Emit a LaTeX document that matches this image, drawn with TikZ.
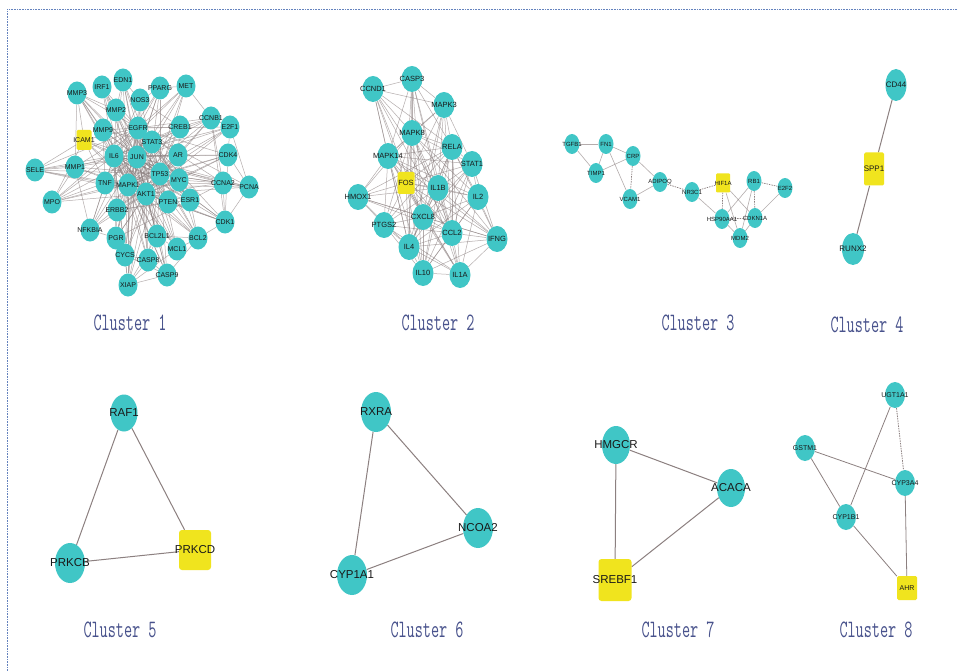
\documentclass[tikz,border=0pt]{standalone}
\usepackage{fontspec}
\usepackage{graphicx}
\newfontfamily\lsans{Liberation Sans}
\usetikzlibrary{shapes.geometric}
\definecolor{tq}{RGB}{64,198,198}
\definecolor{yl}{RGB}{240,228,30}
\definecolor{edg}{RGB}{140,128,128}
\definecolor{cl}{RGB}{72,82,140}
\definecolor{bd}{RGB}{100,130,190}
\pgfdeclarelayer{bg}\pgfsetlayers{bg,main}
\newcommand{\zw}[1]{\makebox[0pt]{#1}}
\tikzset{
 gnode/.style={ellipse, fill=tq, inner sep=0pt, text=black!90},
 ynode/.style={rectangle, rounded corners=1.5pt, fill=yl, inner sep=0pt, text=black!90},
 sA/.style={minimum width=19pt, minimum height=23pt, font=\lsans\fontsize{7}{7}\selectfont},
 sB/.style={minimum width=21pt, minimum height=26pt, font=\lsans\fontsize{7.5}{7.5}\selectfont},
 sC/.style={minimum width=15pt, minimum height=20pt, font=\lsans\fontsize{6}{6}\selectfont},
 sD/.style={minimum width=21pt, minimum height=32pt, font=\lsans\fontsize{8}{8}\selectfont},
 sE/.style={minimum width=30pt, minimum height=40pt, font=\lsans\fontsize{11.5}{11.5}\selectfont},
 sF/.style={minimum width=20pt, minimum height=26pt, font=\lsans\fontsize{7}{7}\selectfont},
 ed/.style={draw=edg, line width=0.5pt, draw opacity=0.65},
 edb/.style={draw=edg, line width=1pt},
 edd/.style={draw=edg, line width=0.7pt, dash pattern=on 1.5pt off 1pt},
 cluslabel/.style={text=cl, inner sep=0pt, font=\ttfamily\fontsize{25}{25}\selectfont},
}
\newcommand{\cltext}[1]{\scalebox{0.63}[1]{#1}}
\begin{document}
\begin{tikzpicture}[x=1pt,y=-1pt]
\useasboundingbox (0,0) rectangle (958,671);
\begin{pgfonlayer}{bg}
\fill[white] (0,0) rectangle (958,671);
\end{pgfonlayer}
\draw[bd, line width=0.9pt, dash pattern=on 0.8pt off 0.8pt] (7,671) -- (7,9) -- (958,9);

% ---------------- Cluster 1
\foreach \n/\x/\y in {EDN1/123/80, IRF1/102/87, MMP3/77/93, PPARG/160/88, MET/186/86, NOS3/140/100, MMP2/116/110, CCNB1/211/118, E2F1/230/127, MMP9/103/130, EGFR/138/128, CREB1/180/127, STAT3/152/142, IL6/114/156, JUN/137/157, AR/178/155, CDK4/228/155, SELE/35/170, MMP1/75/167, TP53/160/174, MYC/179/180, TNF/105/183, MAPK1/128/185, CCNA2/223/183, PCNA/249/187, AKT1/146/194, PTEN/168/202, ESR1/190/200, MPO/52/202, ERBB2/117/210, CDK1/225/222, NFKBIA/90/230, PGR/116/238, BCL2L1/157/236, BCL2/198/238, MCL1/177/249, CYCS/125/255, CASP8/148/260, CASP9/167/275, XIAP/128/285}
  \node[gnode,sA] (\n) at (\x,\y) {\zw{\n}};
\node[ynode,sA,minimum width=15pt,minimum height=20pt] (ICAM1) at (84,140) {\zw{ICAM1}};

\begin{pgfonlayer}{bg}
\foreach \h in {TP53,AKT1,MAPK1,JUN,IL6,EGFR}
  \foreach \n in {EDN1,IRF1,MMP3,PPARG,MET,NOS3,MMP2,CCNB1,E2F1,MMP9,CREB1,STAT3,AR,CDK4,SELE,MMP1,MYC,TNF,CCNA2,PCNA,PTEN,ESR1,MPO,ERBB2,CDK1,NFKBIA,PGR,BCL2L1,BCL2,MCL1,CYCS,CASP8,CASP9,XIAP,ICAM1}
    \draw[ed] (\h) -- (\n);
\foreach \a/\b in {TP53/AKT1,TP53/MAPK1,TP53/JUN,TP53/IL6,TP53/EGFR,AKT1/MAPK1,AKT1/JUN,AKT1/IL6,AKT1/EGFR,MAPK1/JUN,MAPK1/IL6,MAPK1/EGFR,JUN/IL6,JUN/EGFR,IL6/EGFR,
  MMP3/ICAM1,MMP3/MMP2,MMP3/MMP9,MMP3/MMP1,SELE/MMP1,SELE/ICAM1,SELE/TNF,MPO/MMP1,MPO/TNF,MPO/ICAM1,NFKBIA/TNF,NFKBIA/PGR,NFKBIA/MMP1,XIAP/CASP9,XIAP/CYCS,XIAP/CASP8,XIAP/MCL1,XIAP/BCL2L1,CASP9/BCL2,CASP9/CASP8,CASP9/CYCS,BCL2/CDK1,BCL2/MCL1,BCL2/BCL2L1,CDK1/PCNA,CDK1/CCNA2,CDK1/CDK4,CDK1/CCNB1,PCNA/CCNA2,PCNA/CDK4,PCNA/E2F1,CDK4/E2F1,E2F1/CCNB1,CCNB1/MET,CCNB1/CCNA2,MET/PPARG,EDN1/NOS3,EDN1/MMP2,IRF1/MMP2,PPARG/NOS3,STAT3/MYC,STAT3/TNF,STAT3/ESR1,STAT3/MMP9,STAT3/CREB1,MYC/ESR1,MYC/CCNA2,MYC/CDK4,MYC/PTEN,MYC/BCL2,TNF/ERBB2,TNF/MMP9,TNF/ICAM1,ESR1/PGR,ESR1/AR,ESR1/CCNA2,ESR1/ERBB2,ESR1/BCL2,PTEN/ERBB2,PTEN/CDK1,AR/CREB1,CREB1/CCNB1,CREB1/NOS3,ERBB2/PGR,BCL2L1/MCL1,BCL2L1/CASP8,CYCS/CASP8,PGR/CYCS}
  \draw[ed] (\a) -- (\b);
\end{pgfonlayer}
\node[cluslabel] (L1) at (130,323) {\cltext{Cluster 1}};

% ---------------- Cluster 2
\foreach \n/\x/\y in {CCND1/373/89, CASP3/412/79, MAPK3/444/105, MAPK8/412/133, RELA/452/147, MAPK14/388/156, STAT1/472/164, IL1B/438/188, HMOX1/358/197, IL2/478/197, CXCL8/423/217, PTGS2/384/225, CCL2/452/233, IFNG/497/239, IL4/409/247, IL10/423/273, IL1A/460/275}
  \node[gnode,sB] (\n) at (\x,\y) {\zw{\n}};
\node[ynode,sB,minimum width=17pt,minimum height=22pt] (FOS) at (406,183) {\zw{FOS}};
\begin{pgfonlayer}{bg}
\foreach \h in {FOS,IL1B,CXCL8,MAPK8,MAPK14,RELA,CCL2,IL4}
  \foreach \n in {CCND1,CASP3,MAPK3,STAT1,HMOX1,IL2,PTGS2,IFNG,IL10,IL1A}
    \draw[ed] (\h) -- (\n);
\foreach \a/\b in {FOS/IL1B,FOS/CXCL8,FOS/MAPK8,FOS/MAPK14,FOS/RELA,FOS/CCL2,FOS/IL4,IL1B/CXCL8,IL1B/MAPK8,IL1B/MAPK14,IL1B/RELA,IL1B/CCL2,IL1B/IL4,CXCL8/MAPK8,CXCL8/MAPK14,CXCL8/RELA,CXCL8/CCL2,CXCL8/IL4,MAPK8/MAPK14,MAPK8/RELA,MAPK8/CCL2,MAPK8/IL4,MAPK14/RELA,MAPK14/CCL2,MAPK14/IL4,RELA/CCL2,RELA/IL4,CCL2/IL4,
  CCND1/CASP3,CCND1/MAPK3,CASP3/MAPK3,STAT1/IL2,IL2/IFNG,IFNG/IL1A,IFNG/IL10,IL10/IL1A,HMOX1/PTGS2,PTGS2/IL10,STAT1/IFNG,MAPK3/STAT1,IL2/IL1A,HMOX1/IFNG,PTGS2/IL1A,IL2/IL10,STAT1/IL10}
  \draw[ed] (\a) -- (\b);
\end{pgfonlayer}
\node[cluslabel] (L2) at (438,323) {\cltext{Cluster 2}};

% ---------------- Cluster 3
\foreach \n/\x/\y in {TGFB1/572/144, FN1/606/144, CRP/633/156, TIMP1/596/173, ADIPOQ/660/182, VCAM1/630/199, NR3C1/692/192, RB1/754/181, E2F2/785/188, HSP90AA1/722/219, CDKN1A/755/218, MDM2/740/238}
  \node[gnode,sC] (\n) at (\x,\y) {\zw{\n}};
\node[ynode,sC,minimum width=14pt,minimum height=19pt,rounded corners=1pt] (HIF1A) at (723,183) {\zw{HIF1A}};
\begin{pgfonlayer}{bg}
\foreach \a/\b in {TGFB1/FN1,TGFB1/TIMP1,FN1/TIMP1,FN1/CRP,FN1/VCAM1,CRP/TIMP1,CRP/ADIPOQ,VCAM1/ADIPOQ,NR3C1/HSP90AA1,HIF1A/MDM2,HIF1A/CDKN1A,RB1/HSP90AA1,RB1/MDM2,E2F2/CDKN1A,HSP90AA1/MDM2,CDKN1A/MDM2}
  \draw[ed,line width=0.6pt] (\a) -- (\b);
\foreach \a/\b in {CRP/VCAM1,ADIPOQ/NR3C1,NR3C1/HIF1A,HIF1A/HSP90AA1,RB1/E2F2,RB1/CDKN1A,HSP90AA1/CDKN1A}
  \draw[edd] (\a) -- (\b);
\end{pgfonlayer}
\node[cluslabel] (L3) at (698,323) {\cltext{Cluster 3}};

% ---------------- Cluster 4
\node[gnode,sD] (CD44) at (896,85) {\zw{CD44}};
\node[ynode,sD,minimum width=20pt,minimum height=33pt] (SPP1) at (874,169) {\zw{SPP1}};
\node[gnode,sD,minimum width=22pt] (RUNX2) at (853,249) {\zw{RUNX2}};
\begin{pgfonlayer}{bg}
\draw[edb] (CD44) -- (SPP1);
\draw[edb] (SPP1) -- (RUNX2);
\end{pgfonlayer}
\node[cluslabel] (L4) at (867,325) {\cltext{Cluster 4}};

% ---------------- Cluster 5
\node[gnode,sE,minimum width=27pt,minimum height=37pt] (RAF1) at (124,413) {\zw{RAF1}};
\node[ynode,sE,minimum width=32pt,minimum height=40pt,rounded corners=3pt] (PRKCD) at (195,550) {\zw{PRKCD}};
\node[gnode,sE] (PRKCB) at (70,563) {\zw{PRKCB}};
\begin{pgfonlayer}{bg}
\draw[edb] (RAF1) -- (PRKCD);
\draw[edb] (RAF1) -- (PRKCB);
\draw[edb] (PRKCB) -- (PRKCD);
\end{pgfonlayer}
\node[cluslabel] (L5) at (120,630) {\cltext{Cluster 5}};

% ---------------- Cluster 6
\node[gnode,sE] (RXRA) at (376,412) {\zw{RXRA}};
\node[gnode,sE] (NCOA2) at (478,528) {\zw{NCOA2}};
\node[gnode,sE] (CYP1A1) at (352,575) {\zw{CYP1A1}};
\begin{pgfonlayer}{bg}
\draw[edb] (RXRA) -- (NCOA2);
\draw[edb] (RXRA) -- (CYP1A1);
\draw[edb] (CYP1A1) -- (NCOA2);
\end{pgfonlayer}
\node[cluslabel] (L6) at (427,630) {\cltext{Cluster 6}};

% ---------------- Cluster 7
\node[gnode,sE,minimum width=28pt,minimum height=38pt] (HMGCR) at (616,445) {\zw{HMGCR}};
\node[gnode,sE,minimum width=28pt,minimum height=38pt] (ACACA) at (731,488) {\zw{ACACA}};
\node[ynode,sE,minimum width=33pt,minimum height=42pt,rounded corners=3pt] (SREBF1) at (615,580) {\zw{SREBF1}};
\begin{pgfonlayer}{bg}
\draw[edb] (HMGCR) -- (ACACA);
\draw[edb] (HMGCR) -- (SREBF1);
\draw[edb] (SREBF1) -- (ACACA);
\end{pgfonlayer}
\node[cluslabel] (L7) at (678,630) {\cltext{Cluster 7}};

% ---------------- Cluster 8
\node[gnode,sF] (UGT1A1) at (895,395) {\zw{UGT1A1}};
\node[gnode,sF] (GSTM1) at (805,448) {\zw{GSTM1}};
\node[gnode,sF] (CYP3A4) at (905,483) {\zw{CYP3A4}};
\node[gnode,sF] (CYP1B1) at (846,517) {\zw{CYP1B1}};
\node[ynode,sF,minimum width=20pt,minimum height=24pt,rounded corners=1.5pt] (AHR) at (907,588) {\zw{AHR}};
\begin{pgfonlayer}{bg}
\draw[edb,line width=0.8pt] (UGT1A1) -- (CYP1B1);
\draw[edd,line width=0.8pt] (UGT1A1) -- (CYP3A4);
\draw[edb,line width=0.8pt] (GSTM1) -- (CYP3A4);
\draw[edb,line width=0.8pt] (GSTM1) -- (CYP1B1);
\draw[edb,line width=0.8pt] (CYP1B1) -- (AHR);
\draw[edb,line width=0.8pt] (CYP3A4) -- (AHR);
\end{pgfonlayer}
\node[cluslabel] (L8) at (876,630) {\cltext{Cluster 8}};
\end{tikzpicture}
\end{document}
